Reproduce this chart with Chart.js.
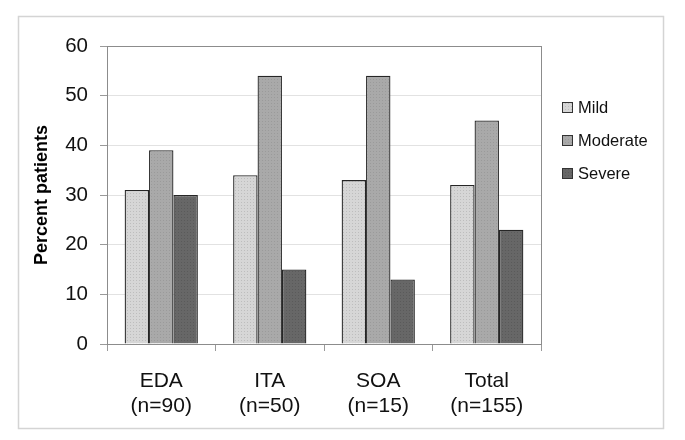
<!DOCTYPE html>
<html>
<head>
<meta charset="utf-8">
<script src="https://cdn.jsdelivr.net/npm/chart.js@4/dist/chart.umd.min.js"></script>
<style>
    html, body { margin: 0; padding: 0; background: #fff; }
    #wrap { width: 685px; height: 440px; position: relative; }
</style>
</head>
<body>
<div id="wrap"><canvas id="chart"></canvas></div>
<script>
// categories (two-line labels) and series values
const groups = [['EDA', '(n=90)'], ['ITA', '(n=50)'], ['SOA', '(n=15)'], ['Total', '(n=155)']];
const mild = [31, 34, 33, 32];
const moderate = [39, 54, 54, 45];
const severe = [30, 15, 13, 23];
const yTicks = [0, 10, 20, 30, 40, 50, 60];

const FONT = "'Liberation Sans', Arial, sans-serif";

// small dotted fill, like the old Excel pattern
function dotted(base, dot) {
    const c = document.createElement('canvas');
    c.width = 3; c.height = 3;
    const g = c.getContext('2d');
    g.fillStyle = base;
    g.fillRect(0, 0, 3, 3);
    g.fillStyle = dot;
    g.fillRect(1, 1, 1, 1);
    return g.createPattern(c, 'repeat');
}

const mildFill = dotted('#d6d6d6', '#bdbdbd');
const modFill = dotted('#a9a9a9', '#9a9a9a');
const sevFill = dotted('#676767', '#5a5a5a');

// frame round the whole picture + plot border + legend
const decor = {
    id: 'decor',
    beforeDraw(chart) {
        const ctx = chart.ctx;
        ctx.save();
        ctx.fillStyle = '#fff';
        ctx.fillRect(0, 0, chart.width, chart.height);
        ctx.strokeStyle = '#d4d4d4';
        ctx.lineWidth = 1.5;
        ctx.strokeRect(18.5, 16.5, 645, 412);
        ctx.restore();
    },
    afterDatasetsDraw(chart) {
        const ctx = chart.ctx;
        const a = chart.chartArea;
        ctx.save();
        ctx.strokeStyle = '#8c8c8c';
        ctx.lineWidth = 1;
        ctx.strokeRect(Math.round(a.left) + 0.5, Math.round(a.top) + 0.5,
            Math.round(a.right - a.left), Math.round(a.bottom - a.top));

        // legend
        ctx.font = '16.5px ' + FONT;
        ctx.textBaseline = 'middle';
        chart.data.datasets.forEach((ds, i) => {
            const y = 107 + i * 33;
            ctx.fillStyle = ds.backgroundColor;
            ctx.fillRect(562, y - 5, 10, 10);
            ctx.strokeStyle = '#333';
            ctx.strokeRect(562.5, y - 4.5, 10, 10);
            ctx.fillStyle = '#111';
            ctx.fillText(ds.label, 578, y + 1);
        });
        ctx.restore();
    }
};

new Chart(document.getElementById('chart'), {
    type: 'bar',
    data: {
        labels: groups,
        datasets: [
            { label: 'Mild', data: mild, backgroundColor: mildFill },
            { label: 'Moderate', data: moderate, backgroundColor: modFill },
            { label: 'Severe', data: severe, backgroundColor: sevFill }
        ]
    },
    options: {
        responsive: true,
        maintainAspectRatio: false,
        animation: false,
        layout: { padding: { top: 46, right: 144, bottom: 0, left: 0 } },
        datasets: {
            bar: {
                borderColor: '#262626',
                borderWidth: 1.3,
                categoryPercentage: 0.675,
                barPercentage: 1
            }
        },
        plugins: {
            legend: { display: false },
            tooltip: { enabled: false }
        },
        scales: {
            x: {
                offset: true,
                grid: {
                    offset: true,
                    drawOnChartArea: false,
                    tickLength: 7,
                    tickColor: '#9a9a9a'
                },
                border: { color: '#8c8c8c' },
                ticks: {
                    color: '#111',
                    padding: 17,
                    maxRotation: 0,
                    font: { family: FONT, size: 21, lineHeight: 1.22 }
                },
                afterFit(s) { s.height = 96; }
            },
            y: {
                min: 0,
                max: 60,
                afterBuildTicks(s) { s.ticks = yTicks.map(v => ({ value: v })); },
                grid: {
                    color: '#e2e2e2',
                    tickLength: 7,
                    tickColor: '#9a9a9a'
                },
                border: { color: '#8c8c8c' },
                ticks: {
                    color: '#111',
                    padding: 12,
                    font: { family: FONT, size: 20.5 }
                },
                title: {
                    display: true,
                    text: 'Percent patients',
                    color: '#000',
                    padding: { top: 31, bottom: 0 },
                    font: { family: FONT, size: 18, weight: 'bold' }
                },
                afterFit(s) { s.width = 107; }
            }
        }
    },
    plugins: [decor]
});
</script>
</body>
</html>
